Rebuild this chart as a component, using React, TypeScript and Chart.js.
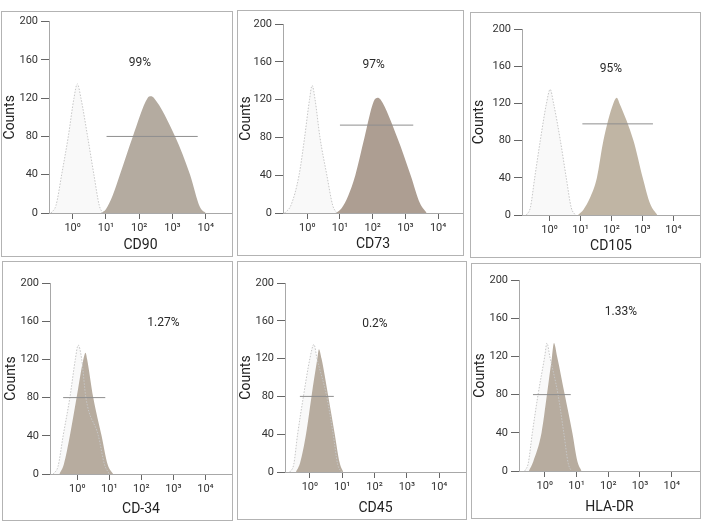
import React, { useEffect, useRef } from 'react';
import { Chart, registerables } from 'chart.js';

Chart.register(...registerables);

// ---------- data ----------
const markerNames = ['CD90', 'CD73', 'CD105', 'CD-34', 'CD45', 'HLA-DR'];
const positivePercent = ['99%', '97%', '95%', '1.27%', '0.2%', '1.33%'];
const percentLogX = [2.02, 2.03, 1.98, 2.69, 2.01, 2.4];
const percentCount = [157, 157, 157, 158, 157, 167];
const gateStartLog = [1.02, 1.0, 1.06, -0.44, -0.31, -0.37];
const gateEndLog = [3.76, 3.24, 3.34, 0.875, 0.74, 0.82];
const gateCount = [80, 93, 98, 80, 80, 80];
const countTicks = [0, 40, 80, 120, 160, 200];
const decadeTicks = [0, 1, 2, 3, 4];
const decadeLabels = ['10⁰', '10¹', '10²', '10³', '10⁴'];

// [log10 intensity, counts]
const cd90Control = [[-0.65, 0], [-0.5, 8], [-0.33, 40], [-0.13, 80], [0.04, 120], [0.14, 135], [0.25, 120], [0.45, 80], [0.64, 40], [0.8, 8], [0.9, 0]];
const cd90Sample = [[0.85, 0], [1.0, 4], [1.2, 18], [1.42, 40], [1.81, 80], [2.25, 120], [2.35, 122], [2.45, 120], [3.08, 80], [3.53, 40], [3.83, 6], [4.0, 0]];
const cd73Control = [[-0.69, 0], [-0.5, 8], [-0.25, 40], [-0.08, 80], [0.07, 120], [0.15, 135], [0.24, 120], [0.39, 80], [0.6, 40], [0.78, 8], [0.9, 0]];
const cd73Sample = [[0.88, 0], [1.05, 5], [1.25, 18], [1.47, 40], [1.75, 80], [2.03, 118], [2.15, 122], [2.24, 120], [2.75, 80], [3.16, 40], [3.45, 10], [3.65, 0]];
const cd105Control = [[-0.75, 0], [-0.62, 8], [-0.48, 40], [-0.3, 80], [-0.1, 120], [0.02, 135], [0.13, 120], [0.35, 80], [0.54, 40], [0.7, 8], [0.83, 0]];
const cd105Sample = [[0.92, 0], [1.1, 6], [1.3, 18], [1.53, 40], [1.74, 80], [2.06, 120], [2.17, 126], [2.26, 120], [2.71, 80], [3.01, 40], [3.25, 12], [3.48, 0]];
const cd34Control = [[-0.75, 0], [-0.6, 8], [-0.44, 40], [-0.23, 80], [-0.06, 120], [0.03, 135], [0.14, 120], [0.27, 80], [0.66, 40], [0.85, 10], [1.0, 0]];
const cd34Sample = [[-0.56, 0], [-0.42, 10], [-0.23, 40], [-0.02, 80], [0.19, 120], [0.26, 127], [0.31, 120], [0.5, 80], [0.76, 40], [0.95, 10], [1.12, 0]];
const cd45Control = [[-0.62, 0], [-0.5, 8], [-0.38, 40], [-0.2, 80], [0.0, 120], [0.125, 135], [0.22, 120], [0.52, 80], [0.72, 40], [0.86, 8], [0.98, 0]];
const cd45Sample = [[-0.43, 0], [-0.3, 10], [-0.12, 40], [0.05, 80], [0.23, 120], [0.28, 130], [0.36, 120], [0.57, 80], [0.77, 40], [0.92, 10], [1.03, 0]];
const hladrControl = [[-0.63, 0], [-0.52, 8], [-0.39, 40], [-0.21, 80], [0.0, 120], [0.07, 134], [0.16, 120], [0.42, 80], [0.6, 40], [0.74, 8], [0.84, 0]];
const hladrSample = [[-0.5, 0], [-0.36, 10], [-0.1, 40], [0.07, 80], [0.23, 120], [0.29, 134], [0.39, 120], [0.63, 80], [0.87, 40], [1.03, 10], [1.16, 0]];

const controlCurves = [cd90Control, cd73Control, cd105Control, cd34Control, cd45Control, hladrControl];
const sampleCurves = [cd90Sample, cd73Sample, cd105Sample, cd34Sample, cd45Sample, hladrSample];

// ---------- styles / layout ----------
const sampleColors = ['#b4aba0', '#ad9e92', '#c0b5a4', '#b7ac9f', '#b7ac9f', '#b7ac9f'];
// [boxLeft, boxTop, boxRight, boxBottom, plotLeft, plotTop, plotBottom, xMin, xMax]
const panelLayout = [
  [1, 11, 232, 256, 49, 20, 213, -0.71, 4.79],
  [237, 10, 463, 255, 283, 24, 213, -0.74, 4.76],
  [470, 12, 700, 257, 522, 29, 215, -0.89, 4.86],
  [2, 261, 232, 520, 50, 283, 474, -0.85, 4.83],
  [237, 261, 466, 519, 285, 283, 472, -0.77, 4.83],
  [471, 263, 700, 518, 519, 280, 471, -0.81, 4.89],
];

const FONT = 'Roboto, "Noto Sans", Arial, sans-serif';

function toPoints(arr: number[][]) {
  return arr.map(([x, y]) => ({ x, y }));
}

function Panel({ idx }: { idx: number }) {
  const ref = useRef<HTMLCanvasElement | null>(null);
  const [L, T, R, B, pL, pT, pB, xMin, xMax] = panelLayout[idx];

  useEffect(() => {
    if (!ref.current) return;
    const labelPlugin = {
      id: 'pctLabel' + idx,
      afterDatasetsDraw(chart: any) {
        const ctx = chart.ctx;
        const xs = chart.scales.x;
        const ys = chart.scales.y;
        ctx.save();
        ctx.font = `12px ${FONT}`;
        ctx.fillStyle = '#2a2a2a';
        ctx.textAlign = 'center';
        ctx.textBaseline = 'middle';
        ctx.fillText(positivePercent[idx], xs.getPixelForValue(percentLogX[idx]), ys.getPixelForValue(percentCount[idx]));
        ctx.restore();
      },
    };
    const chart = new Chart(ref.current, {
      type: 'line',
      data: {
        datasets: [
          {
            data: [
              { x: gateStartLog[idx], y: gateCount[idx] },
              { x: gateEndLog[idx], y: gateCount[idx] },
            ],
            borderColor: '#8f8f8f',
            borderWidth: 1,
            pointRadius: 0,
            fill: false,
            order: 1,
          },
          {
            data: toPoints(controlCurves[idx]),
            borderColor: '#c6c6c6',
            borderWidth: 1,
            borderDash: [1.5, 1.5],
            pointRadius: 0,
            fill: false,
            cubicInterpolationMode: 'monotone',
            order: 2,
          },
          {
            data: toPoints(sampleCurves[idx]),
            borderColor: 'rgba(0,0,0,0)',
            backgroundColor: sampleColors[idx],
            borderWidth: 0,
            pointRadius: 0,
            fill: 'origin',
            cubicInterpolationMode: 'monotone',
            order: 3,
          },
          {
            data: toPoints(controlCurves[idx]),
            borderColor: 'rgba(0,0,0,0)',
            backgroundColor: '#f9f9f9',
            borderWidth: 0,
            pointRadius: 0,
            fill: 'origin',
            cubicInterpolationMode: 'monotone',
            order: 4,
          },
        ] as any,
      },
      options: {
        animation: false,
        responsive: true,
        maintainAspectRatio: false,
        events: [],
        layout: { padding: { top: pT - (T + 1), left: 0, right: 0, bottom: 0 } },
        plugins: { legend: { display: false }, tooltip: { enabled: false } },
        scales: {
          x: {
            type: 'linear',
            min: xMin,
            max: xMax,
            afterBuildTicks: (s: any) => {
              s.ticks = decadeTicks.map((v) => ({ value: v }));
            },
            afterFit: (s: any) => {
              s.height = B - pB;
            },
            ticks: {
              autoSkip: false,
              maxRotation: 0,
              padding: 3,
              color: '#333',
              font: { family: FONT, size: 11 },
              callback: (v: any) => decadeLabels[decadeTicks.indexOf(Number(v))] ?? '',
            },
            grid: { display: true, drawOnChartArea: false, tickLength: 6, color: '#666' },
            border: { display: true, color: '#a8a8a8', dash: [2, 2], width: 1 },
            title: {
              display: true,
              text: markerNames[idx],
              color: '#222',
              font: { family: FONT, size: 14 },
              padding: { top: 0, bottom: 2 },
            },
          },
          y: {
            type: 'linear',
            min: 0,
            max: 200,
            afterBuildTicks: (s: any) => {
              s.ticks = countTicks.map((v) => ({ value: v }));
            },
            afterFit: (s: any) => {
              s.width = pL - (L + 1);
            },
            ticks: {
              padding: 3,
              color: '#333',
              font: { family: FONT, size: 11 },
            },
            grid: { display: true, drawOnChartArea: false, tickLength: 8, color: '#666' },
            border: { display: true, color: '#a8a8a8', dash: [2, 2], width: 1 },
            title: {
              display: true,
              text: 'Counts',
              color: '#222',
              font: { family: FONT, size: 14 },
              padding: { top: 0, bottom: 0 },
            },
          },
        },
      } as any,
      plugins: [labelPlugin],
    });
    return () => chart.destroy();
  }, [idx]);

  return (
    <div
      style={{
        position: 'absolute',
        left: L,
        top: T,
        width: R - L + 1,
        height: B - T + 1,
        border: '1px solid #b3b3b3',
        boxSizing: 'border-box',
        background: '#fff',
      }}
    >
      <div style={{ position: 'relative', width: R - L - 1, height: B - T - 1 }}>
        <canvas ref={ref} />
      </div>
    </div>
  );
}

export default function App() {
  return (
    <div style={{ position: 'absolute', left: 0, top: 0, width: 701, height: 531, background: '#fff', overflow: 'hidden' }}>
      {markerNames.map((_, i) => (
        <Panel key={i} idx={i} />
      ))}
    </div>
  );
}
